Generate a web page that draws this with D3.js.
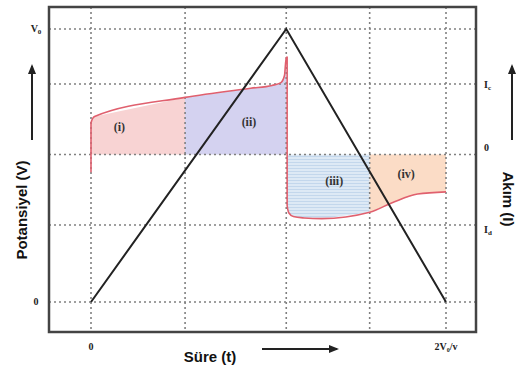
<!DOCTYPE html>
<html>
<head>
<meta charset="utf-8">
<script src="https://cdnjs.cloudflare.com/ajax/libs/d3/7.8.5/d3.min.js"></script>
<style>
  body { margin: 0; background: #fff; }
  svg { display: block; }
</style>
</head>
<body>
<div id="canvas"></div>
<script>
"use strict"

/* data (t in units of V0/v, current in units of Ic) */
const gridTimes = [0, 0.53, 1.1, 1.57, 2];
const potentialGrid = [0, 1];
const currentGrid = [-1, 0, 1];

const potential = [[0, 0], [1.1, 1], [2, 0]];

const current = [
    [0, -0.25], [0, 0.45], [0.02, 0.54], [0.53, 0.81], [0.9, 0.94],
    [1.02, 0.98], [1.07, 1.02], [1.09, 1.12], [1.1, 1.38], [1.105, 1.38],
    [1.105, -0.72], [1.115, -0.83], [1.14, -0.88], [1.2, -0.9], [1.3, -0.91],
    [1.57, -0.82], [1.7, -0.68], [1.84, -0.56], [2.0, -0.53]
];

const regionNames = ["(i)", "(ii)", "(iii)", "(iv)"];
const regionBounds = [[0, 0.53], [0.53, 1.1], [1.105, 1.57], [1.57, 2]];
const regionLabelAt = [[0.16, 0.33], [0.89, 0.4], [1.37, -0.43], [1.775, -0.33]];

const leftTicks = [{ v: 0, main: "0", sub: "" }, { v: 1, main: "V", sub: "0" }];
const rightTicks = [{ v: 1, main: "I", sub: "c" }, { v: 0, main: "0", sub: "" }, { v: -1, main: "I", sub: "d" }];
const bottomTicks = [{ t: 0, label: "0" }, { t: 2, label: "2V₀/v" }];

/* canvas */
let drawing = d3.select("#canvas")
    .append("svg")
    .attr("width", 519)
    .attr("height", 369);

let frame = { left: 49, top: 7, right: 476, bottom: 332 };

let x = d3.scaleLinear().domain([0, 2]).range([91, 446]);
let yV = d3.scaleLinear().domain([0, 1]).range([302, 29]);
let yI = d3.scaleLinear().domain([-1, 1]).range([225, 84]);

/* hatch pattern for region (iii) */
let defs = drawing.append("defs");
let hatch = defs.append("pattern")
    .attr("id", "hatch")
    .attr("patternUnits", "userSpaceOnUse")
    .attr("width", 6)
    .attr("height", 3);
hatch.append("rect").attr("width", 6).attr("height", 3).attr("fill", "#dde9f5");
hatch.append("rect").attr("width", 6).attr("height", 1).attr("fill", "#c3d7ec");

let regionFills = ["#f8d3d3", "#d4d2f0", "url(#hatch)", "#fbdcc6"];

regionBounds.forEach((b, i) => {
    defs.append("clipPath")
        .attr("id", "clip" + i)
        .append("rect")
        .attr("x", x(b[0]))
        .attr("y", frame.top)
        .attr("width", x(b[1]) - x(b[0]))
        .attr("height", frame.bottom - frame.top);
});

/* filled regions between zero current and the curve */
let area = d3.area()
    .x(d => x(d[0]))
    .y0(yI(0))
    .y1(d => yI(d[1]));

regionBounds.forEach((b, i) => {
    drawing.append("path")
        .datum(current)
        .attr("d", area)
        .attr("fill", regionFills[i])
        .attr("clip-path", "url(#clip" + i + ")");
});

/* dotted grid */
let grid = drawing.append("g")
    .attr("stroke", "#808080")
    .attr("stroke-width", 1.6)
    .attr("stroke-dasharray", "2,3");

grid.selectAll(".vg")
    .data(gridTimes)
    .enter().append("line")
    .attr("x1", d => x(d)).attr("x2", d => x(d))
    .attr("y1", frame.top).attr("y2", frame.bottom);

grid.selectAll(".hv")
    .data(potentialGrid)
    .enter().append("line")
    .attr("x1", frame.left).attr("x2", frame.right)
    .attr("y1", d => yV(d)).attr("y2", d => yV(d));

grid.selectAll(".hi")
    .data(currentGrid)
    .enter().append("line")
    .attr("x1", frame.left).attr("x2", frame.right)
    .attr("y1", d => yI(d)).attr("y2", d => yI(d));

/* current curve */
drawing.append("path")
    .datum(current)
    .attr("d", d3.line().x(d => x(d[0])).y(d => yI(d[1])).curve(d3.curveMonotoneX))
    .attr("fill", "none")
    .attr("stroke", "#e0606e")
    .attr("stroke-width", 1.6);

/* potential triangle */
drawing.append("path")
    .datum(potential)
    .attr("d", d3.line().x(d => x(d[0])).y(d => yV(d[1])))
    .attr("fill", "none")
    .attr("stroke", "#222")
    .attr("stroke-width", 2);

/* frame */
drawing.append("rect")
    .attr("x", frame.left)
    .attr("y", frame.top)
    .attr("width", frame.right - frame.left)
    .attr("height", frame.bottom - frame.top)
    .attr("fill", "none")
    .attr("stroke", "#444")
    .attr("stroke-width", 2.5);

/* region labels */
let serif = "Liberation Serif, DejaVu Serif, serif";

drawing.selectAll(".rl")
    .data(regionNames)
    .enter().append("text")
    .attr("x", (d, i) => x(regionLabelAt[i][0]))
    .attr("y", (d, i) => yI(regionLabelAt[i][1]))
    .attr("text-anchor", "middle")
    .attr("font-family", serif)
    .attr("font-weight", "bold")
    .attr("font-size", 12)
    .attr("fill", "#333")
    .text(d => d);

/* tick labels */
function tickText(sel, px, py, anchor, t) {
    let txt = sel.append("text")
        .attr("x", px).attr("y", py)
        .attr("text-anchor", anchor)
        .attr("font-family", serif)
        .attr("font-weight", "bold")
        .attr("font-size", 10)
        .attr("fill", "#222");
    txt.append("tspan").text(t.main);
    if (t.sub) txt.append("tspan").attr("font-size", 7).attr("dy", 2).text(t.sub);
}

leftTicks.forEach(t => tickText(drawing, 36, yV(t.v) + 3, "middle", t));
tickText(drawing, 484, yI(1) + 4, "start", rightTicks[0]);
tickText(drawing, 484, yI(0) - 4, "start", rightTicks[1]);
tickText(drawing, 484, yI(-1) + 8, "start", rightTicks[2]);

drawing.selectAll(".bt")
    .data(bottomTicks)
    .enter().append("text")
    .attr("x", d => x(d.t))
    .attr("y", 350)
    .attr("text-anchor", "middle")
    .attr("font-family", serif)
    .attr("font-weight", "bold")
    .attr("font-size", 10)
    .attr("fill", "#222")
    .text(d => d.label);

/* axis titles */
let sans = "Liberation Sans, Arial, sans-serif";

drawing.append("text")
    .attr("transform", "translate(27, 210) rotate(-90)")
    .attr("text-anchor", "middle")
    .attr("font-family", sans)
    .attr("font-weight", "bold")
    .attr("font-size", 15)
    .attr("fill", "#111")
    .text("Potansiyel (V)");

drawing.append("text")
    .attr("transform", "translate(503, 199) rotate(90)")
    .attr("text-anchor", "middle")
    .attr("font-family", sans)
    .attr("font-weight", "bold")
    .attr("font-size", 15)
    .attr("fill", "#111")
    .text("Akım (I)");

drawing.append("text")
    .attr("x", 210)
    .attr("y", 362)
    .attr("text-anchor", "middle")
    .attr("font-family", sans)
    .attr("font-weight", "bold")
    .attr("font-size", 15)
    .attr("fill", "#111")
    .text("Süre (t)");

/* arrows */
function arrow(x1, y1, x2, y2) {
    drawing.append("line")
        .attr("x1", x1).attr("y1", y1).attr("x2", x2).attr("y2", y2)
        .attr("stroke", "#222").attr("stroke-width", 2);
    let a = Math.atan2(y2 - y1, x2 - x1);
    let L = 8, W = 4;
    let p = [
        [x2 + Math.cos(a) * 2, y2 + Math.sin(a) * 2],
        [x2 - L * Math.cos(a) + W * Math.sin(a), y2 - L * Math.sin(a) - W * Math.cos(a)],
        [x2 - L * Math.cos(a) - W * Math.sin(a), y2 - L * Math.sin(a) + W * Math.cos(a)]
    ];
    drawing.append("polygon")
        .attr("points", p.map(q => q.join(",")).join(" "))
        .attr("fill", "#222");
}

arrow(32, 140, 32, 66);
arrow(512, 140, 512, 66);
arrow(262, 349, 337, 349);
</script>
</body>
</html>
